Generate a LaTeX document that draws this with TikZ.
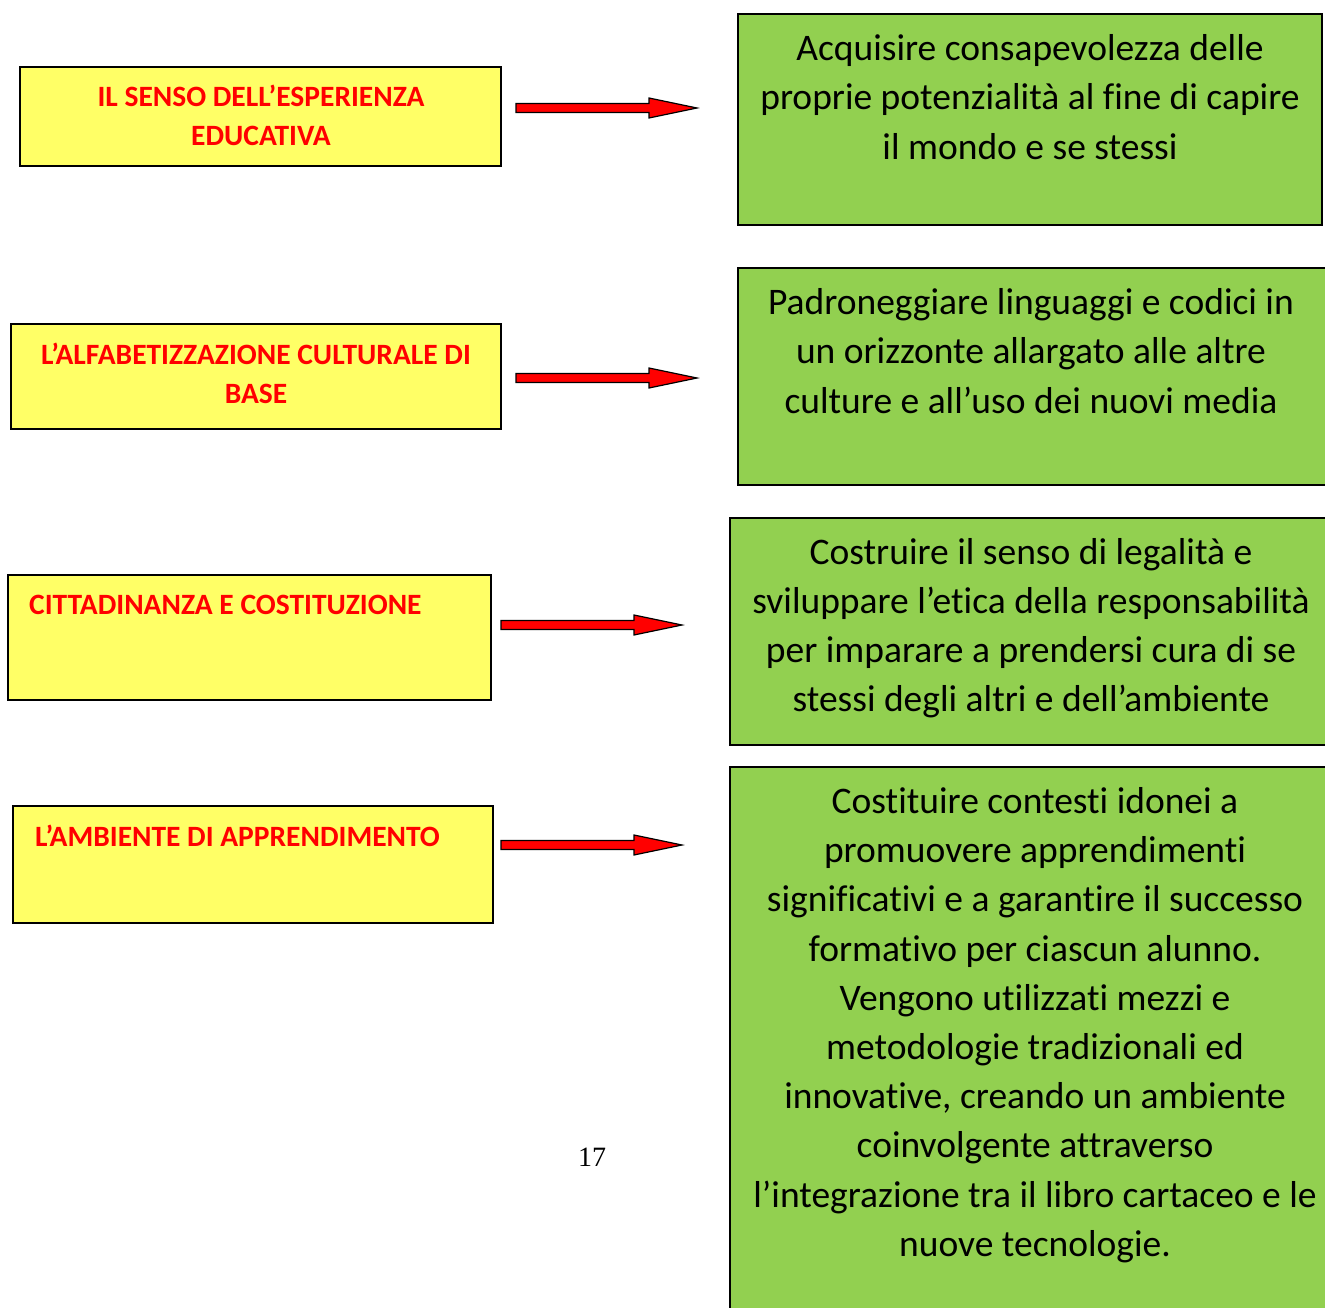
\documentclass[tikz,border=0pt]{standalone}
\usepackage{fontspec}
\setmainfont{Carlito}[Ligatures=NoCommon]
\newfontfamily\pagefont{Liberation Serif}
\definecolor{boxyellow}{HTML}{FFFF66}
\definecolor{boxgreen}{HTML}{92D050}
\definecolor{arrred}{HTML}{FF0000}
\begin{document}
\begin{tikzpicture}[x=1pt,y=-1pt,
  ybox/.style={draw=black, line width=1.5pt, fill=boxyellow},
  gbox/.style={draw=black, line width=1.5pt, fill=boxgreen},
  ytext/.style={text=arrred, font=\fontsize{29.5}{39}\selectfont\bfseries, align=center, inner sep=0pt},
  gtext/.style={text=black, font=\fontsize{37.5}{49.2}\selectfont, align=center, inner sep=0pt},
  fatarrow/.pic={\filldraw[fill=arrred, draw=black, line width=1.2pt]
     (0,-4.5) -- (133,-4.5) -- (133,-10) -- (181,0) -- (133,10) -- (133,4.5) -- (0,4.5) -- cycle;}
]
\useasboundingbox[fill=white] (0,0) rectangle (1325,1308);
% yellow boxes
\draw[ybox] (20,67) rectangle (501,166);
\draw[ybox] (11,324) rectangle (501,429);
\draw[ybox] (8,575) rectangle (491,700);
\draw[ybox] (13,806) rectangle (493,923);
% green boxes
\draw[gbox] (738,14) rectangle (1322,225);
\draw[gbox] (738,268) rectangle (1340,485);
\draw[gbox] (730,518) rectangle (1340,745);
\draw[gbox] (730,767) rectangle (1340,1330);
% yellow texts
\node[ytext] (t1) at (261,115) {IL SENSO DELL’ESPERIENZA\\EDUCATIVA};
\node[ytext] (t2) at (256,373) {L’ALFABETIZZAZIONE CULTURALE DI\\BASE};
\node[ytext, anchor=west] (t3) at (29,605) {CITTADINANZA E COSTITUZIONE};
\node[ytext, anchor=west] (t4) at (35,836) {L’AMBIENTE DI APPRENDIMENTO};
% green texts
\node[gtext] (g1) at (1030,97) {Acquisire consapevolezza delle\\proprie potenzialità al fine di capire\\il mondo e se stessi};
\node[gtext] (g2) at (1031,351) {Padroneggiare linguaggi e codici in\\un orizzonte allargato alle altre\\culture e all’uso dei nuovi media};
\node[gtext] (g3) at (1031,628) {Costruire il senso di legalità e\\sviluppare l’etica della responsabilità\\per imparare a prendersi cura di se\\stessi degli altri e dell’ambiente};
\node[gtext] (g4) at (1035,1025) {Costituire contesti idonei a\\promuovere apprendimenti\\significativi e a garantire il successo\\formativo per ciascun alunno.\\Vengono utilizzati mezzi e\\metodologie tradizionali ed\\innovative, creando un ambiente\\coinvolgente attraverso\\l’integrazione tra il libro cartaceo e le\\nuove tecnologie.};
% arrows
\pic at (516,108) {fatarrow};
\pic at (516,378) {fatarrow};
\pic at (501,625) {fatarrow};
\pic at (501,845) {fatarrow};
% page number
\node[font=\pagefont\fontsize{28}{30}\selectfont, inner sep=0pt] (pn) at (592,1157) {17};
\end{tikzpicture}
\end{document}
